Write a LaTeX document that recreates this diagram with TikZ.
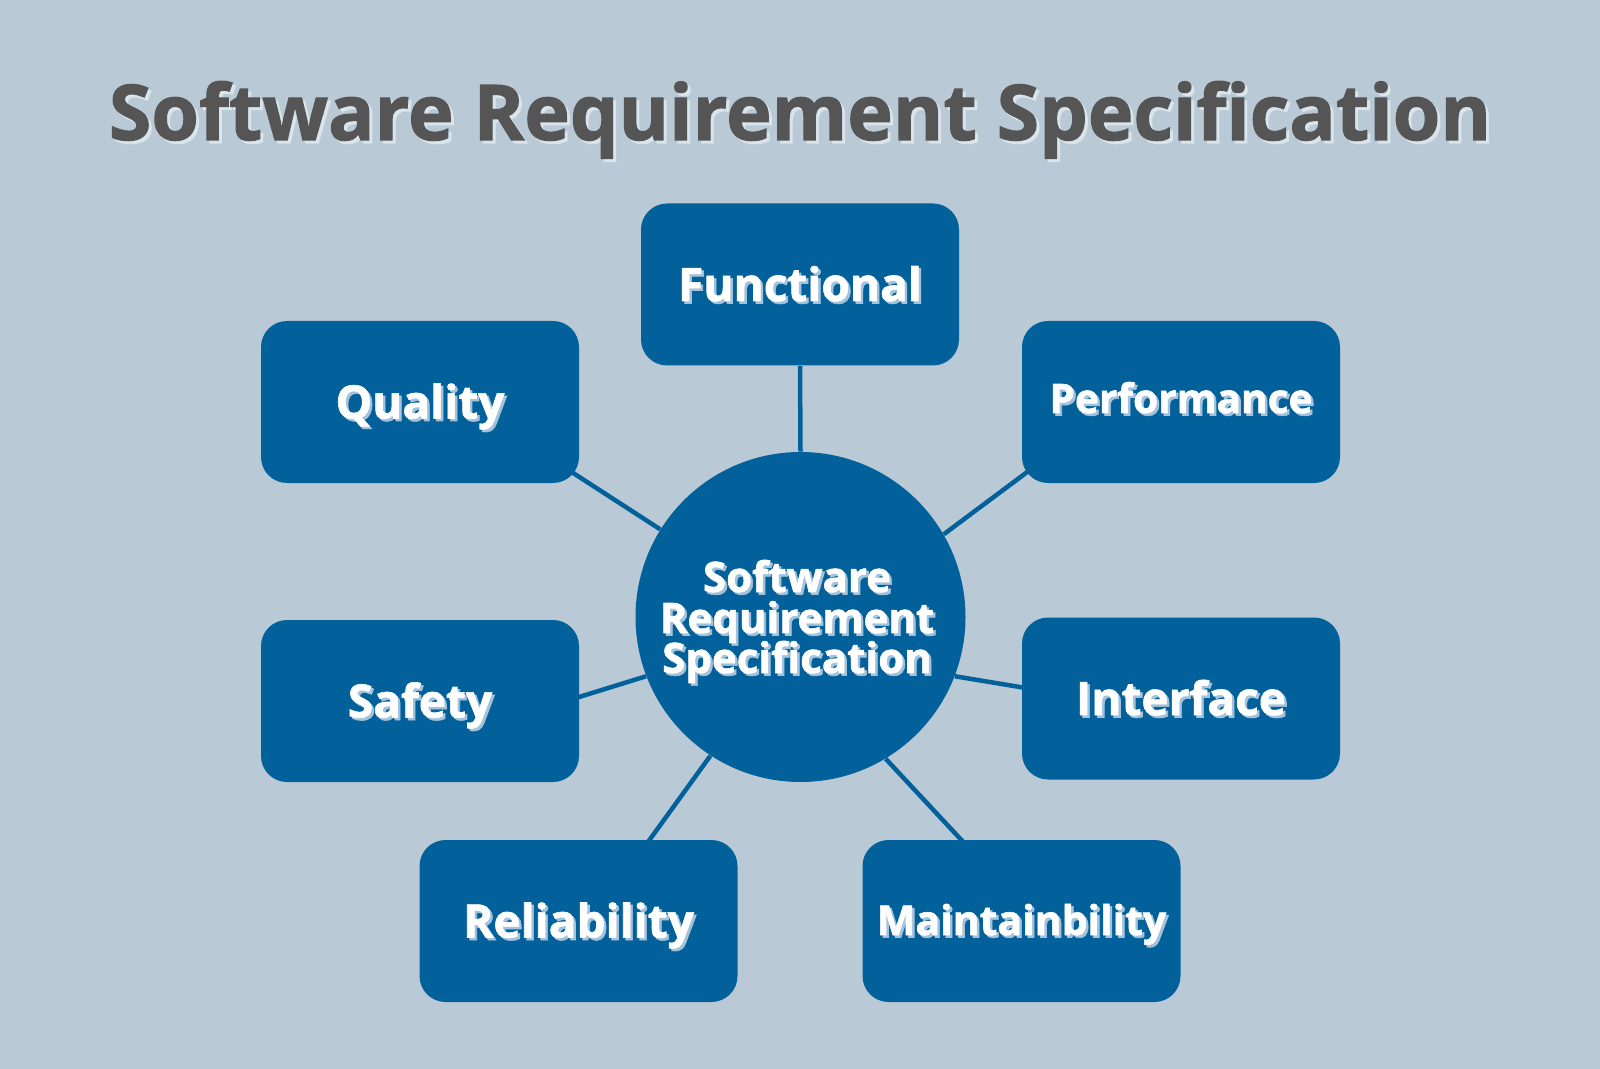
\documentclass[tikz,border=0pt]{standalone}
\usepackage{fontspec}
\setmainfont{Open Sans}[BoldFeatures={FakeBold=1.4}]
\usetikzlibrary{calc}
\definecolor{bgcol}{HTML}{B9CAD6}
\definecolor{boxblue}{HTML}{02609A}
\definecolor{shadowblue}{HTML}{A3C2DB}
\definecolor{titlegray}{HTML}{555555}
\definecolor{titleshadow}{HTML}{D9E4EB}
\pgfdeclarelayer{bg}
\pgfdeclarelayer{lines}
\pgfsetlayers{bg,lines,main}
\tikzset{
  box/.style={fill=boxblue, rounded corners=13pt, minimum width=159pt, minimum height=81pt, inner sep=0pt},
  hub/.style={circle, fill=boxblue, minimum size=165pt, inner sep=0pt},
  link/.style={draw=boxblue, line width=2.25pt},
  lbl/.style={text=white, anchor=base, inner sep=0pt},
  lblsh/.style={text=shadowblue, anchor=base, inner sep=0pt},
}
\newcommand\mylabel[5]{%
  \node[lblsh, font=\fontsize{#4}{#4}\selectfont\bfseries] (#1s) at ($(#2,#3)+(2.5,2.5)$) {#5};
  \node[lbl, font=\fontsize{#4}{#4}\selectfont\bfseries] (#1t) at (#2,#3) {#5};
}
\begin{document}
\begin{tikzpicture}[x=0.5pt, y=-0.5pt]
\begin{pgfonlayer}{bg}
  \fill[bgcol] (0,0) rectangle (1600,1069);
\end{pgfonlayer}
\useasboundingbox (0,0) rectangle (1600,1069);

% title
\node[text=titleshadow, anchor=base, inner sep=0pt, font=\fontsize{38.5pt}{38.5pt}\selectfont\bfseries] (titles) at (803,143) {Software Requirement Specification};
\node[text=titlegray, anchor=base, inner sep=0pt, font=\fontsize{38.5pt}{38.5pt}\selectfont\bfseries] (title) at (800,140) {Software Requirement Specification};

% nodes
\node[hub] (c) at (800.5,617) {};
\node[box] (f) at (800,284.5) {};
\node[box] (q) at (420,402) {};
\node[box] (p) at (1181,402) {};
\node[box] (s) at (420,701) {};
\node[box] (i) at (1181,698.5) {};
\node[box] (r) at (578.5,921) {};
\node[box] (m) at (1021.5,921) {};

% hidden ends of connectors (under the boxes)
\coordinate (qe) at (550,458);
\coordinate (pe) at (1050,455);
\coordinate (se) at (550,706);
\coordinate (ie) at (1050,692);
\coordinate (re) at (635,860);
\coordinate (me) at (980,860);

\begin{pgfonlayer}{lines}
  \draw[link] (f.south) -- (c.north);
  \draw[link] (c.148.9) -- (qe);
  \draw[link] (c.30.8) -- (pe);
  \draw[link] (c.201.2) -- (se);
  \draw[link] (c.339.7) -- (ie);
  \draw[link] (c.237.7) -- (re);
  \draw[link] (c.301.3) -- (me);
\end{pgfonlayer}

% labels
\mylabel{f}{800}{301}{23pt}{Functional}
\mylabel{q}{420}{418.5}{23pt}{Quality}
\mylabel{p}{1181}{413}{20.3pt}{Performance}
\mylabel{s}{420}{717.5}{23pt}{Safety}
\mylabel{i}{1181}{715}{23pt}{Interface}
\mylabel{r}{578.5}{937.5}{23pt}{Reliability}
\mylabel{m}{1021.5}{935}{20.5pt}{Maintainbility}

\mylabel{c1}{797}{592}{21pt}{Software}
\mylabel{c2}{797}{633}{21pt}{Requirement}
\mylabel{c3}{797}{673}{21pt}{Specification}
\end{tikzpicture}
\end{document}
